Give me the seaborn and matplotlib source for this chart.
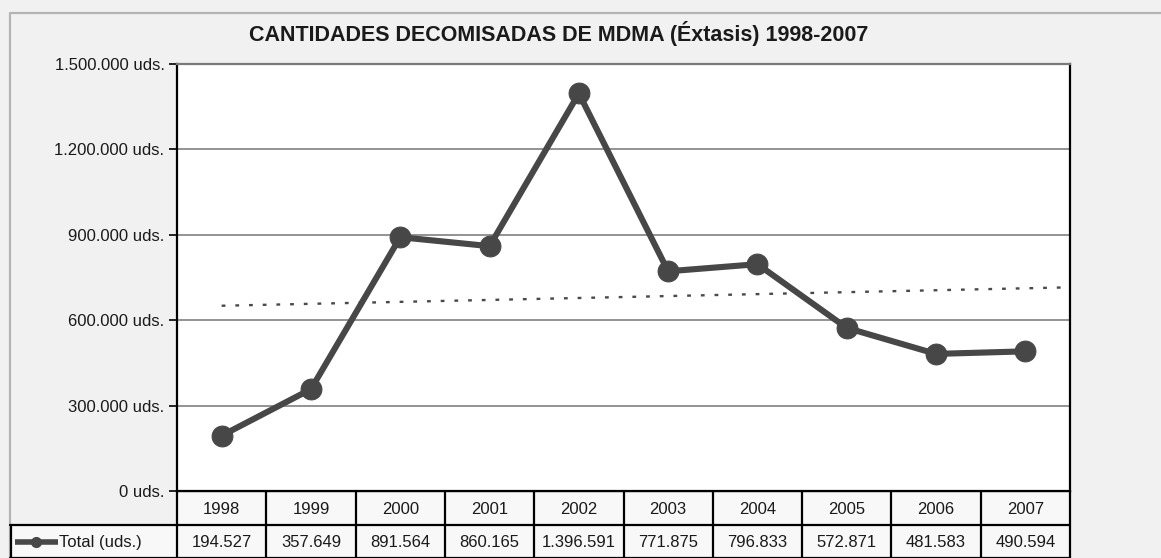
import numpy as np
import pandas as pd
import matplotlib
matplotlib.use("Agg")
import matplotlib.pyplot as plt
import seaborn as sns
from matplotlib.patches import Rectangle
from matplotlib.ticker import FuncFormatter, MultipleLocator
from matplotlib.transforms import blended_transform_factory

# Seized MDMA quantities per year (units)
years = ["1998", "1999", "2000", "2001", "2002", "2003", "2004", "2005", "2006", "2007"]
totals = [194527, 357649, 891564, 860165, 1396591, 771875, 796833, 572871, 481583, 490594]
series_label = "Total (uds.)"
title = "CANTIDADES DECOMISADAS DE MDMA (Éxtasis) 1998-2007"

df = pd.DataFrame({"pos": np.arange(len(years)), "year": years, "total": totals})


def dotted(v):
    return f"{int(v):,}".replace(",", ".")


sns.set_theme(style="white")
plt.rcParams["font.family"] = ["Liberation Sans", "DejaVu Sans"]

W, H = 1161, 558
LINE_C = "#474747"
TXT_C = "#1a1a1a"
FS = 12
fig = plt.figure(figsize=(W / 100, H / 100), dpi=100, facecolor="#f1f1f1")

# Pixel-space background layer for frame and data table
bg = fig.add_axes([0, 0, 1, 1], zorder=0)
bg.set_xlim(0, W)
bg.set_ylim(H, 0)
bg.axis("off")
bg.plot([10, 10, W], [H, 13, 13], color="#b4b4b4", lw=1.6, solid_capstyle="butt")

left, right, top, bottom = 177, 1070, 64, 491
ax = fig.add_axes([left / W, 1 - bottom / H, (right - left) / W, (bottom - top) / H], zorder=1)
ax.set_facecolor("white")

# Linear trend of the series, extended half a period forward
coef = np.polyfit(df["pos"], df["total"], 1)
tx = np.array([0, len(years) - 1 + 0.45])
ax.plot(tx, np.polyval(coef, tx), color="#4a4a4a", lw=1.7, linestyle=(0, (1.6, 4.2)), zorder=2)

sns.lineplot(data=df, x="pos", y="total", ax=ax, color=LINE_C, lw=4.4,
             marker="o", markersize=15, markeredgecolor=LINE_C, markerfacecolor=LINE_C,
             zorder=3, legend=False)

ax.set_xlim(-0.5, len(years) - 0.5)
ax.set_ylim(0, 1500000)
ax.yaxis.set_major_locator(MultipleLocator(300000))
ax.yaxis.set_major_formatter(FuncFormatter(lambda v, p: f"{dotted(v)} uds."))
ax.grid(axis="y", color="#8a8a8a", lw=1.3)
ax.set_axisbelow(True)
ax.set_xticks([])
ax.set_xlabel("")
ax.set_ylabel("")
ax.tick_params(axis="y", direction="out", length=6, width=1.2, color="black",
               labelsize=FS, labelcolor=TXT_C, pad=3, left=True)
for s in ("left", "right"):
    ax.spines[s].set_color("black")
    ax.spines[s].set_linewidth(1.6)
ax.spines["top"].set_color("#7a7a7a")
ax.spines["top"].set_linewidth(1.6)
ax.spines["bottom"].set_color("black")
ax.spines["bottom"].set_linewidth(1.6)

fig.text(559 / W, 1 - 33 / H, title, ha="center", va="center",
         fontsize=15.5, fontweight="bold", color=TXT_C)

# Data table below the plot
tr = blended_transform_factory(ax.transData, bg.transData)
row1, row2, row3 = bottom, 525, H
n = len(years)
bg.add_patch(Rectangle((left, row1), right - left, row3 - row1, facecolor="#f8f8f8",
                       edgecolor="none", zorder=1))
bg.add_patch(Rectangle((10, row2), left - 10, row3 - row2, facecolor="#f8f8f8",
                       edgecolor="none", zorder=1))
for i in range(n + 1):
    bg.plot([i - 0.5, i - 0.5], [row1, row3], color="black", lw=1.6, transform=tr, zorder=3)
bg.plot([left, right], [row1, row1], color="black", lw=1.6, zorder=3)
bg.plot([10, right], [row2, row2], color="black", lw=1.6, zorder=3)
bg.plot([10, right], [row3 - 0.5, row3 - 0.5], color="black", lw=1.6, zorder=3)
bg.plot([10.5, 10.5], [row2, row3], color="black", lw=1.6, zorder=3)

for i, (yr, v) in enumerate(zip(years, totals)):
    bg.text(i, (row1 + row2) / 2 + 1, yr, transform=tr, ha="center", va="center",
            fontsize=FS, color=TXT_C, zorder=4)
    bg.text(i, (row2 + row3) / 2 + 1, dotted(v), transform=tr, ha="center", va="center",
            fontsize=FS, color=TXT_C, zorder=4)

# Legend key in the table's first column
ky = (row2 + row3) / 2
bg.plot([15, 58], [ky, ky], color=LINE_C, lw=4, solid_capstyle="butt", zorder=4)
bg.plot([36], [ky], marker="o", markersize=7, color=LINE_C, zorder=5)
bg.text(59, ky + 1, series_label, ha="left", va="center", fontsize=FS, color=TXT_C, zorder=4)

fig.savefig("out.png", dpi=100, facecolor=fig.get_facecolor())
